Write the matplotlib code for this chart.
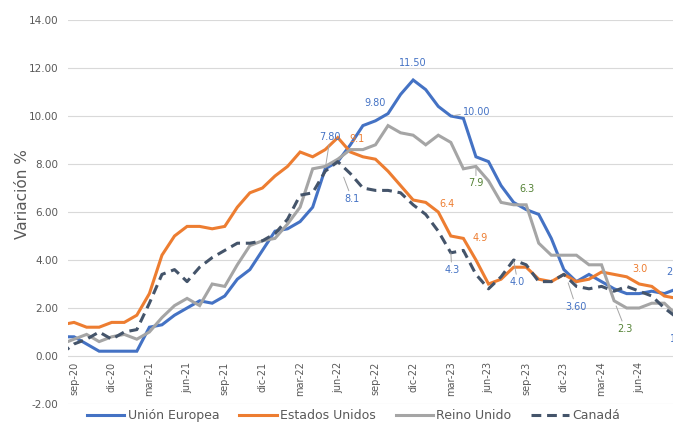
import matplotlib
matplotlib.use("Agg")
import matplotlib.pyplot as plt
import numpy as np

# Monthly series, ago-20 .. sep-24 (first point sits just left of the plot edge)
months = ["ago-20", "sep-20", "oct-20", "nov-20", "dic-20",
          "ene-21", "feb-21", "mar-21", "abr-21", "may-21", "jun-21",
          "jul-21", "ago-21", "sep-21", "oct-21", "nov-21", "dic-21",
          "ene-22", "feb-22", "mar-22", "abr-22", "may-22", "jun-22",
          "jul-22", "ago-22", "sep-22", "oct-22", "nov-22", "dic-22",
          "ene-23", "feb-23", "mar-23", "abr-23", "may-23", "jun-23",
          "jul-23", "ago-23", "sep-23", "oct-23", "nov-23", "dic-23",
          "ene-24", "feb-24", "mar-24", "abr-24", "may-24", "jun-24",
          "jul-24", "ago-24", "sep-24"]

union_europea = [0.8, 0.8, 0.5, 0.2, 0.2, 0.2, 0.2,
                 1.2, 1.3, 1.7, 2.0, 2.3, 2.2, 2.5, 3.2, 3.6, 4.4, 5.2, 5.3,
                 5.6, 6.2, 7.8, 8.1, 8.8, 9.6, 9.8, 10.1, 10.9, 11.5, 11.1, 10.4,
                 10.0, 9.9, 8.3, 8.1, 7.1, 6.4, 6.1, 5.9, 4.9, 3.6, 3.1, 3.4,
                 3.1, 2.8, 2.6, 2.6, 2.7, 2.6, 2.8]
estados_unidos = [1.3, 1.4, 1.2, 1.2, 1.4,
                  1.4, 1.7, 2.6, 4.2, 5.0, 5.4, 5.4, 5.3, 5.4, 6.2, 6.8, 7.0,
                  7.5, 7.9, 8.5, 8.3, 8.6, 9.1, 8.5, 8.3, 8.2, 7.7, 7.1, 6.5,
                  6.4, 6.0, 5.0, 4.9, 4.0, 3.0, 3.2, 3.7, 3.7, 3.2, 3.1, 3.4,
                  3.1, 3.2, 3.5, 3.4, 3.3, 3.0, 2.9, 2.5, 2.4]
reino_unido = [0.5, 0.7, 0.9, 0.6, 0.8,
               0.9, 0.7, 1.0, 1.6, 2.1, 2.4, 2.1, 3.0, 2.9, 3.8, 4.6, 4.8,
               4.9, 5.5, 6.2, 7.8, 7.9, 8.2, 8.6, 8.6, 8.8, 9.6, 9.3, 9.2,
               8.8, 9.2, 8.9, 7.8, 7.9, 7.3, 6.4, 6.3, 6.3, 4.7, 4.2, 4.2,
               4.2, 3.8, 3.8, 2.3, 2.0, 2.0, 2.2, 2.2, 1.7]
canada = [0.1, 0.5, 0.7, 1.0, 0.7,
          1.0, 1.1, 2.2, 3.4, 3.6, 3.1, 3.7, 4.1, 4.4, 4.7, 4.7, 4.8,
          5.1, 5.7, 6.7, 6.8, 7.7, 8.1, 7.6, 7.0, 6.9, 6.9, 6.8, 6.3,
          5.9, 5.2, 4.3, 4.4, 3.4, 2.8, 3.3, 4.0, 3.8, 3.1, 3.1, 3.4,
          2.9, 2.8, 2.9, 2.7, 2.9, 2.7, 2.5, 2.0, 1.6]

tick_labels = ["sep-20", "dic-20", "mar-21", "jun-21", "sep-21", "dic-21",
               "mar-22", "jun-22", "sep-22", "dic-22", "mar-23", "jun-23",
               "sep-23", "dic-23", "mar-24", "jun-24"]

BLUE = "#4472C4"
ORANGE = "#ED7D31"
GRAY = "#A5A5A5"
DARK = "#44546A"
GREEN = "#548235"
TEXT = "#595959"

x = np.arange(len(months)) - 1  # sep-20 -> 0

fig = plt.figure(figsize=(6.73, 4.22), dpi=100)
ax = fig.add_axes([0.10104, 0.04265, 0.9141, 0.90995])

series = [
    ("Unión Europea", union_europea, BLUE, "-"),
    ("Estados Unidos", estados_unidos, ORANGE, "-"),
    ("Reino Unido", reino_unido, GRAY, "-"),
    ("Canadá", canada, DARK, "--"),
]
handles = []
for name, vals, color, ls in series:
    (ln,) = ax.plot(x, vals, color=color, lw=2.2, ls=ls, label=name,
                    solid_joinstyle="miter", dash_capstyle="butt")
    if ls == "--":
        ln.set_dashes((3.2, 1.9))
    handles.append(ln)

# category labels hang just under the zero line
ax.spines["bottom"].set_position(("data", 0))
for s in ax.spines.values():
    s.set_visible(False)

ax.set_xlim(-0.48, 48.5)
ax.set_ylim(-2, 14)
ax.set_yticks(np.arange(-2, 15, 2))
ax.yaxis.set_major_formatter(matplotlib.ticker.FormatStrFormatter("%.2f"))
ax.yaxis.grid(True, color="#D9D9D9", lw=0.8)
ax.set_axisbelow(True)

tick_pos = [months.index(t) - 1 for t in tick_labels]
ax.set_xticks(tick_pos)
ax.set_xticklabels(tick_labels)
ax.tick_params(axis="x", length=0, pad=4, labelsize=7, labelcolor=TEXT,
               labelrotation=90)
ax.tick_params(axis="y", length=0, pad=7, labelsize=7.5, labelcolor=TEXT)

ax.set_ylabel("Variación %", fontsize=11, color=TEXT)
ax.yaxis.set_label_coords(-0.062, 0.547)

# data labels: (values, month, text, colour, offset px, leader shrink or None)
labels = [
    (union_europea, "may-22", "7.80", BLUE, (5, 32), 1),
    (estados_unidos, "jun-22", "9.1", ORANGE, (19, -1), None),
    (canada, "jun-22", "8.1", BLUE, (14, -37), 12),
    (union_europea, "sep-22", "9.80", BLUE, (0, 18), None),
    (union_europea, "dic-22", "11.50", BLUE, (0, 17), None),
    (union_europea, "mar-23", "10.00", BLUE, (26, 4), 2),
    (estados_unidos, "ene-23", "6.4", ORANGE, (21, -2), None),
    (reino_unido, "may-23", "7.9", GREEN, (0, -17), 0),
    (estados_unidos, "abr-23", "4.9", ORANGE, (17, 0), None),
    (reino_unido, "sep-23", "6.3", GREEN, (1, 16), None),
    (canada, "mar-23", "4.3", BLUE, (1, -17), 0),
    (canada, "ago-23", "4.0", BLUE, (4, -22), 1),
    (union_europea, "dic-23", "3.60", BLUE, (12, -37), 10),
    (estados_unidos, "jun-24", "3.0", ORANGE, (1, 15), None),
    (reino_unido, "abr-24", "2.3", GREEN, (11, -28), 4),
    (union_europea, "sep-24", "2.80", BLUE, (0, 17), None),
    (canada, "sep-24", "1.6", BLUE, (1, -21), None),
]
for vals, month, txt, color, (dx, dy), shrink in labels:
    k = months.index(month)
    kw = {}
    if shrink is not None:
        kw["arrowprops"] = dict(arrowstyle="-", color="#A6A6A6", lw=0.7,
                                shrinkA=0, shrinkB=shrink)
    ax.annotate(txt, xy=(x[k], vals[k]), xytext=(dx, dy),
                textcoords="offset pixels", ha="center", va="center",
                fontsize=7, color=color, annotation_clip=False, **kw)

fig.legend(handles=handles, loc="center", bbox_to_anchor=(0.525, 0.015),
           ncol=4, frameon=False, fontsize=9, handlelength=3.0,
           handletextpad=0.25, columnspacing=1.6, labelcolor=TEXT)

fig.savefig("out.png", dpi=100)
